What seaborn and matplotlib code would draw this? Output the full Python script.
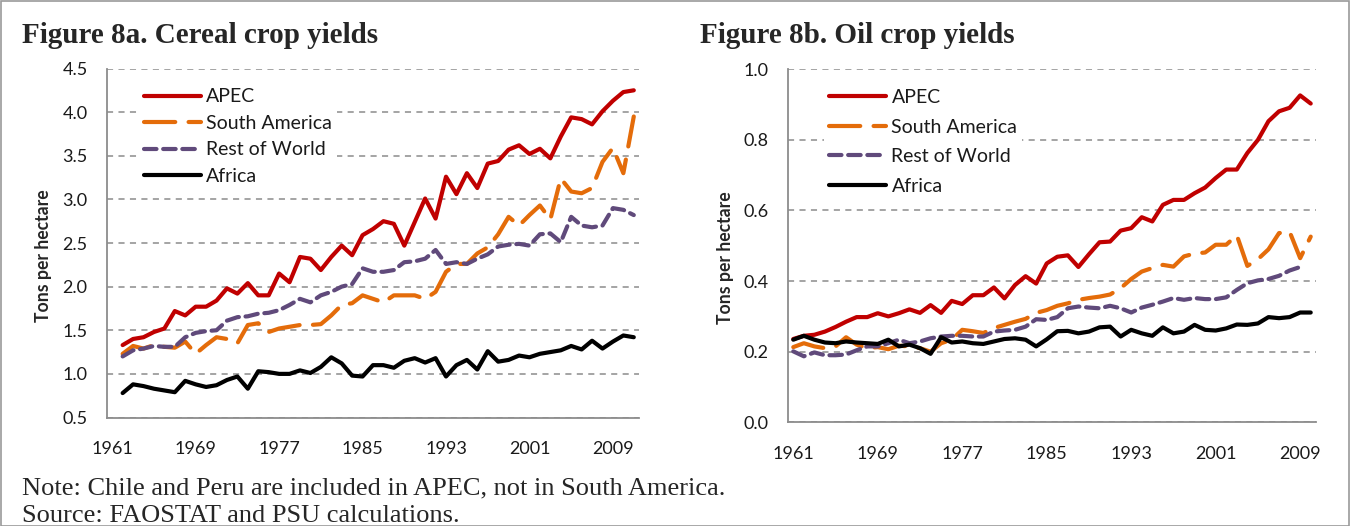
import numpy as np
import pandas as pd
import matplotlib
matplotlib.use("Agg")
import matplotlib.pyplot as plt
import seaborn as sns
from matplotlib.ticker import MultipleLocator, FormatStrFormatter, FixedLocator
from matplotlib.lines import Line2D
from matplotlib.patches import Rectangle

# --- data ---
REGIONS = ["APEC", "South America", "Rest of World", "Africa"]

# Figure 8a: cereal yields (tons/ha); plotted from the 2nd category slot on
YEARS_A = list(range(1962, 2012))
CEREAL_APEC = [1.33, 1.40, 1.42, 1.48, 1.52, 1.72, 1.67, 1.77, 1.77, 1.84,
               1.98, 1.92, 2.04, 1.90, 1.90, 2.15, 2.05, 2.34, 2.32, 2.19,
               2.34, 2.47, 2.36, 2.59, 2.66, 2.75, 2.72, 2.47, 2.74, 3.01,
               2.78, 3.26, 3.06, 3.30, 3.13, 3.41, 3.44, 3.57, 3.62, 3.52,
               3.58, 3.47, 3.72, 3.94, 3.92, 3.86, 4.01, 4.13, 4.23, 4.25]
CEREAL_SAM = [1.23, 1.32, 1.29, 1.33, 1.31, 1.30, 1.37, 1.23, 1.33, 1.42,
              1.40, 1.35, 1.56, 1.58, 1.48, 1.52, 1.54, 1.56, 1.56, 1.57,
              1.67, 1.79, 1.81, 1.90, 1.86, 1.82, 1.90, 1.90, 1.90, 1.86,
              1.94, 2.17, 2.26, 2.26, 2.38, 2.45, 2.60, 2.80, 2.70, 2.82,
              2.93, 2.77, 3.24, 3.09, 3.07, 3.13, 3.43, 3.59, 3.30, 3.95]
CEREAL_ROW = [1.20, 1.27, 1.29, 1.32, 1.31, 1.31, 1.42, 1.47, 1.49, 1.50,
              1.61, 1.65, 1.66, 1.69, 1.70, 1.73, 1.79, 1.86, 1.82, 1.90,
              1.94, 2.00, 2.03, 2.21, 2.17, 2.17, 2.19, 2.28, 2.29, 2.32,
              2.42, 2.26, 2.28, 2.26, 2.32, 2.37, 2.46, 2.48, 2.49, 2.47,
              2.60, 2.61, 2.51, 2.80, 2.70, 2.68, 2.70, 2.90, 2.88, 2.82]
CEREAL_AFR = [0.78, 0.88, 0.86, 0.83, 0.81, 0.79, 0.92, 0.88, 0.85, 0.87,
              0.93, 0.97, 0.83, 1.03, 1.02, 1.00, 1.00, 1.04, 1.01, 1.08,
              1.19, 1.12, 0.98, 0.97, 1.10, 1.10, 1.07, 1.15, 1.18, 1.13,
              1.18, 0.97, 1.10, 1.16, 1.05, 1.26, 1.14, 1.16, 1.21, 1.19,
              1.23, 1.25, 1.27, 1.32, 1.28, 1.38, 1.29, 1.37, 1.44, 1.42]

# Figure 8b: oil crop yields (tons/ha)
YEARS_B = list(range(1961, 2011))
OIL_APEC = [0.236, 0.245, 0.248, 0.257, 0.270, 0.285, 0.298, 0.298, 0.309, 0.300,
            0.309, 0.320, 0.310, 0.332, 0.310, 0.344, 0.335, 0.360, 0.360, 0.382,
            0.351, 0.389, 0.414, 0.393, 0.450, 0.469, 0.473, 0.440, 0.476, 0.510,
            0.512, 0.543, 0.550, 0.581, 0.569, 0.616, 0.630, 0.630, 0.649, 0.665,
            0.692, 0.716, 0.716, 0.763, 0.800, 0.853, 0.881, 0.891, 0.926, 0.903]
OIL_SAM = [0.213, 0.224, 0.215, 0.210, 0.215, 0.241, 0.220, 0.210, 0.213, 0.207,
           0.217, 0.215, 0.210, 0.200, 0.224, 0.234, 0.262, 0.258, 0.253, 0.267,
           0.276, 0.285, 0.293, 0.310, 0.318, 0.330, 0.337, 0.347, 0.352, 0.356,
           0.362, 0.380, 0.406, 0.427, 0.437, 0.446, 0.441, 0.470, 0.478, 0.481,
           0.503, 0.503, 0.530, 0.443, 0.462, 0.490, 0.536, 0.540, 0.465, 0.526]
OIL_ROW = [0.201, 0.187, 0.198, 0.190, 0.190, 0.192, 0.204, 0.215, 0.215, 0.224,
           0.234, 0.224, 0.229, 0.238, 0.243, 0.245, 0.245, 0.243, 0.243, 0.257,
           0.260, 0.262, 0.271, 0.292, 0.290, 0.298, 0.323, 0.328, 0.325, 0.323,
           0.330, 0.323, 0.311, 0.325, 0.333, 0.342, 0.352, 0.347, 0.352, 0.349,
           0.349, 0.354, 0.375, 0.394, 0.402, 0.406, 0.415, 0.430, 0.440]
OIL_AFR = [0.234, 0.245, 0.234, 0.226, 0.224, 0.229, 0.226, 0.224, 0.222, 0.234,
           0.215, 0.220, 0.210, 0.194, 0.241, 0.226, 0.229, 0.224, 0.222, 0.229,
           0.236, 0.238, 0.234, 0.215, 0.235, 0.258, 0.259, 0.252, 0.257, 0.269,
           0.271, 0.243, 0.262, 0.252, 0.245, 0.269, 0.252, 0.257, 0.276, 0.262,
           0.260, 0.266, 0.277, 0.276, 0.280, 0.298, 0.295, 0.298, 0.311, 0.311]

LABEL_YEARS = [1961, 1969, 1977, 1985, 1993, 2001, 2009]

COLORS = {"APEC": "#C00000", "South America": "#E46C0A",
          "Rest of World": "#604A7B", "Africa": "#000000"}
DASHES = {"APEC": "", "South America": (7.5, 3.2),
          "Rest of World": (3.0, 1.6), "Africa": ""}

GRID_C = "#8C8C8C"
AXIS_C = "#8C8C8C"
TICK_FONT = ["Lato", "DejaVu Sans"]
SERIF = ["Liberation Serif", "DejaVu Serif"]


def long_frame(years_list, series_list):
    rows = []
    for name, yrs, vals in zip(REGIONS, years_list, series_list):
        for y, v in zip(yrs, vals):
            rows.append({"Year": y, "Yield": v, "Region": name})
    return pd.DataFrame(rows)


def draw_panel(ax, df, xlim, ylim, ystep, legend_anchor, labelspacing):
    sns.lineplot(data=df, x="Year", y="Yield", hue="Region", style="Region",
                 hue_order=REGIONS, style_order=REGIONS, palette=COLORS,
                 dashes=DASHES, linewidth=3.0, ax=ax, legend=False,
                 solid_capstyle="round", dash_capstyle="round", zorder=3)

    ax.set_xlim(*xlim)
    ax.set_ylim(*ylim)
    ax.yaxis.set_major_locator(MultipleLocator(ystep))
    ax.yaxis.set_major_formatter(FormatStrFormatter("%.1f"))
    ax.xaxis.set_major_locator(FixedLocator(LABEL_YEARS))
    ax.xaxis.set_minor_locator(MultipleLocator(1, offset=0.5))
    ax.grid(axis="y", color=GRID_C, linestyle=(0, (4, 3.5)), linewidth=1.1, zorder=1)
    ax.grid(axis="x", visible=False)
    ax.set_axisbelow(True)

    for s in ["top", "right"]:
        ax.spines[s].set_visible(False)
    for s in ["left", "bottom"]:
        ax.spines[s].set_color(AXIS_C)
        ax.spines[s].set_linewidth(1.3)

    ax.tick_params(axis="y", which="major", length=6, width=1.2, color=AXIS_C,
                   direction="out", pad=8, labelsize=13)
    ax.tick_params(axis="x", which="major", length=0, pad=17, labelsize=13)
    ax.tick_params(axis="x", which="minor", length=6, width=1.1, color=AXIS_C,
                   direction="out")
    for lab in ax.get_xticklabels() + ax.get_yticklabels():
        lab.set_family(TICK_FONT)
        lab.set_color("#1a1a1a")

    ax.set_xlabel("")
    ax.set_ylabel("Tons per hectare", fontsize=12.7, fontweight="bold",
                  family=TICK_FONT)
    ax.yaxis.set_label_coords(-0.103, 0.465)

    handles = [Line2D([], [], color=COLORS[r], linewidth=3.0,
                      linestyle=(0, DASHES[r]) if DASHES[r] else "-",
                      solid_capstyle="round", dash_capstyle="round")
               for r in REGIONS]
    leg = ax.legend(handles, REGIONS, loc="upper left", bbox_to_anchor=legend_anchor,
                    frameon=True, facecolor="white", edgecolor="none", framealpha=1,
                    fancybox=False, handlelength=2.9, handletextpad=0.3,
                    labelspacing=labelspacing, borderpad=0.25,
                    prop={"family": TICK_FONT, "size": 14})
    leg.set_zorder(5)
    for t in leg.get_texts():
        t.set_color("#1a1a1a")


def main():
    sns.set_style("white")
    plt.rcParams["font.family"] = ["Lato", "DejaVu Sans"]

    fig = plt.figure(figsize=(13.5, 5.26), dpi=100)

    ax_a = fig.add_axes([107 / 1350, 1 - 417.5 / 526, 532 / 1350, 349 / 526])
    ax_b = fig.add_axes([788 / 1350, 1 - 422.3 / 526, 528 / 1350, 353 / 526])

    df_a = long_frame([YEARS_A] * 4, [CEREAL_APEC, CEREAL_SAM, CEREAL_ROW, CEREAL_AFR])
    df_b = long_frame([YEARS_B, YEARS_B, YEARS_B[:len(OIL_ROW)], YEARS_B],
                      [OIL_APEC, OIL_SAM, OIL_ROW, OIL_AFR])

    draw_panel(ax_a, df_a, (1960.5, 2011.5), (0.5, 4.5), 0.5, (0.0425, 0.985), 0.49)
    draw_panel(ax_b, df_b, (1960.5, 2010.5), (0.0, 1.0), 0.2, (0.0505, 0.985), 0.64)

    fig.text(22 / 1350, 1 - 43 / 526, "Figure 8a. Cereal crop yields",
             fontsize=21, fontweight="bold", family=SERIF, va="baseline")
    fig.text(700 / 1350, 1 - 43 / 526, "Figure 8b. Oil crop yields",
             fontsize=21, fontweight="bold", family=SERIF, va="baseline")
    fig.text(22 / 1350, 1 - 494 / 526,
             "Note: Chile and Peru are included in APEC, not in South America.",
             fontsize=19, family=SERIF, va="baseline")
    fig.text(22 / 1350, 1 - 522 / 526, "Source: FAOSTAT and PSU calculations.",
             fontsize=19, family=SERIF, va="baseline")

    # thin frame round the figure, as in the source document
    fig.patches.append(Rectangle((0.0008, 0.0), 0.9985, 0.998, transform=fig.transFigure,
                                 fill=False, edgecolor="#9a9a9a", linewidth=1.2))

    fig.savefig("out.png", dpi=100)


if __name__ == "__main__":
    main()
